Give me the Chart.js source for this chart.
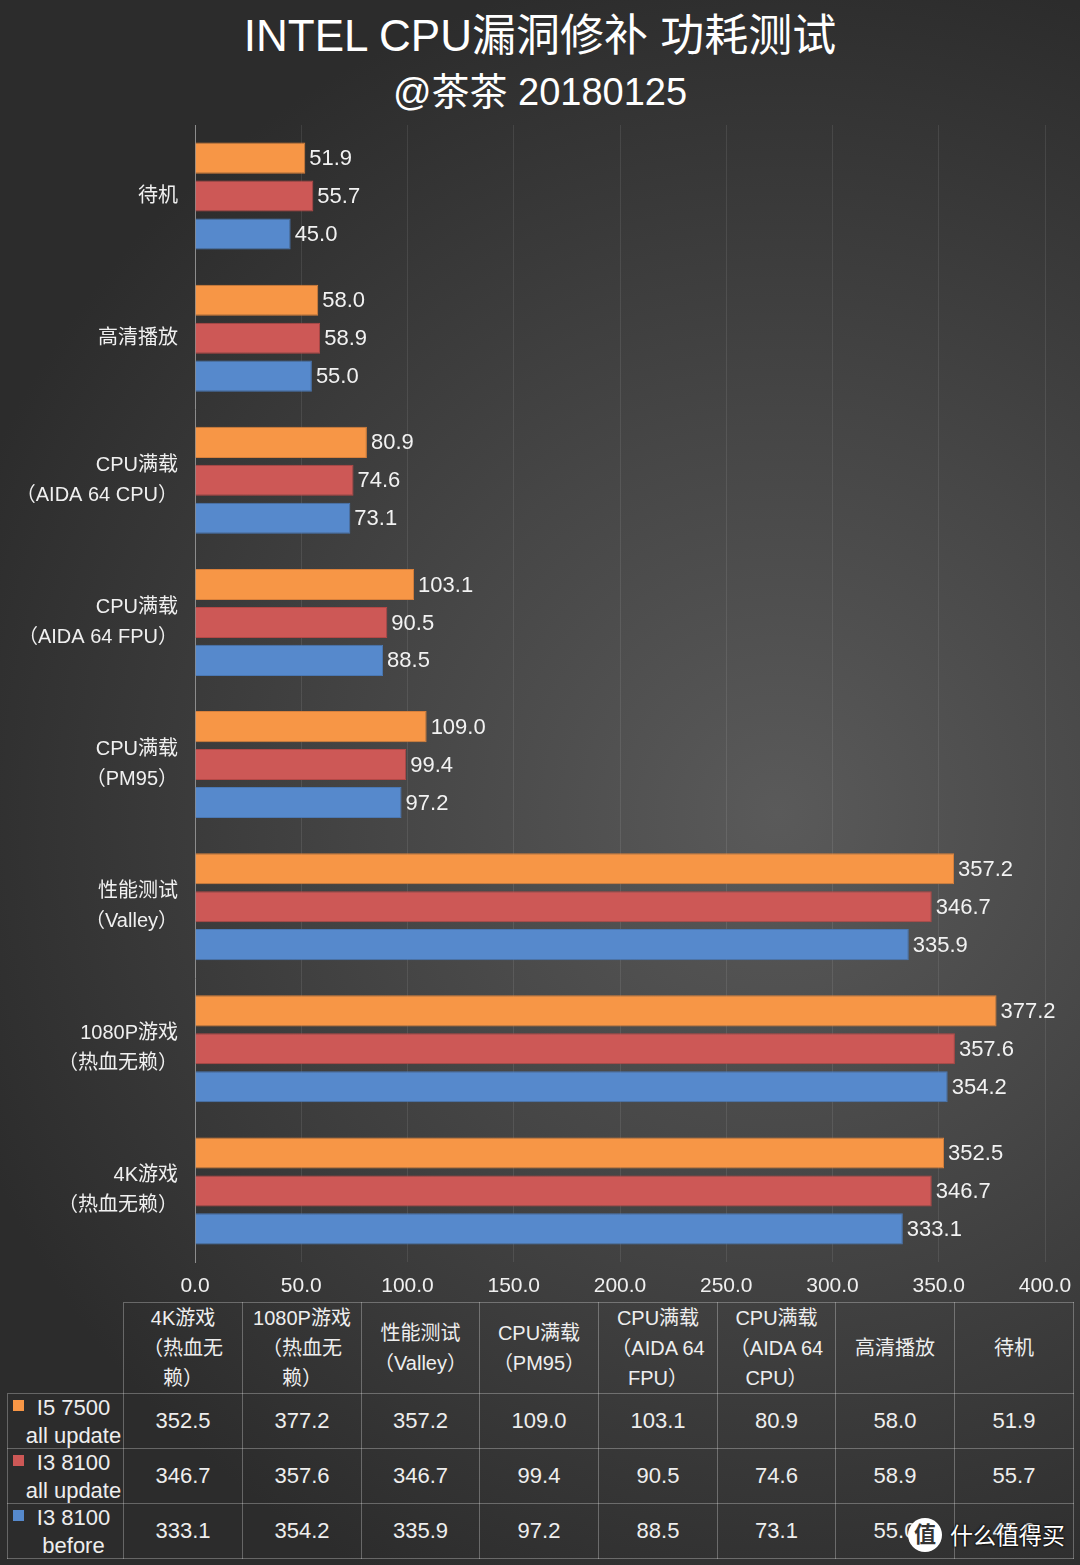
<!DOCTYPE html>
<html>
<head>
<meta charset="utf-8">
<script src="https://cdn.jsdelivr.net/npm/chart.js@4.4.1/dist/chart.umd.min.js"></script>
<style>
  body { margin: 0; }
  #page {
    position: relative; width: 1080px; height: 1565px; overflow: hidden;
    background: radial-gradient(ellipse 80% 55% at 72% 52%, #5a5a5a 0%, #464646 45%, #2c2c2c 100%);
    font-family: "Liberation Sans", "Noto Sans CJK SC", sans-serif; color: #fff;
  }
  .title { position: absolute; left: 0; width: 1080px; text-align: center; white-space: nowrap; }
  #t1 { top: 8px; font-size: 44px; line-height: 56px; }
  #t2 { top: 66px; font-size: 38px; line-height: 52px; }
  #chart { position: absolute; left: 0; top: 0; }
  #tbl { position: absolute; left: 7px; top: 1302px; border-collapse: collapse; table-layout: fixed; }
  #tbl td { border: 1px solid rgba(255,255,255,0.28); text-align: center; color: #eee; padding: 0; }
  #tbl tr.head td { height: 89px; font-size: 20px; line-height: 30px; }
  #tbl tr.row td { height: 54px; font-size: 22px; }
  #tbl td.corner { border-top: none; border-left: none; }
  .lab { position: relative; height: 54px; }
  .key { position: absolute; left: 5px; top: 6px; width: 11px; height: 11px; }
  .labtxt { position: absolute; left: 16px; right: 0; top: 0; font-size: 22px; line-height: 28px; text-align: center; }
  #wm { position: absolute; left: 908px; top: 1518px; height: 36px; }
  #wm .c { position: absolute; left: 0; top: 0; width: 34px; height: 34px; border-radius: 50%; background: #fff;
           color: #333; font-size: 22px; line-height: 34px; text-align: center; font-weight: bold; }
  #wm .t { position: absolute; left: 42px; top: 0; font-size: 23px; line-height: 36px; white-space: nowrap;
           text-shadow: 0 0 3px #000, 0 0 2px #000; }
</style>
</head>
<body>
<div id="page">
  <div id="t1" class="title">INTEL CPU漏洞修补 功耗测试</div>
  <div id="t2" class="title">@茶茶 20180125</div>
  <canvas id="chart" width="1080" height="1300"></canvas>
  <table id="tbl"></table>
  <div id="wm"><div class="c">值</div><div class="t">什么值得买</div></div>
</div>
<script>
// categories, top to bottom as drawn in the chart
const categories = [
  ['待机'],
  ['高清播放'],
  ['CPU满载', '（AIDA 64 CPU）'],
  ['CPU满载', '（AIDA 64 FPU）'],
  ['CPU满载', '（PM95）'],
  ['性能测试', '（Valley）'],
  ['1080P游戏', '（热血无赖）'],
  ['4K游戏', '（热血无赖）']
];

// column headers of the data table (order reversed, wrapped like the original)
const tableHeaders = [
  ['4K游戏', '（热血无', '赖）'],
  ['1080P游戏', '（热血无', '赖）'],
  ['性能测试', '（Valley）'],
  ['CPU满载', '（PM95）'],
  ['CPU满载', '（AIDA 64', 'FPU）'],
  ['CPU满载', '（AIDA 64', 'CPU）'],
  ['高清播放'],
  ['待机']
];

const seriesNames = [['I5 7500', 'all update'], ['I3 8100', 'all update'], ['I3 8100', 'before']];
const i5Update = [51.9, 58.0, 80.9, 103.1, 109.0, 357.2, 377.2, 352.5];
const i3Update = [55.7, 58.9, 74.6, 90.5, 99.4, 346.7, 357.6, 346.7];
const i3Before = [45.0, 55.0, 73.1, 88.5, 97.2, 335.9, 354.2, 333.1];
const colors = ['#f79646', '#cd5856', '#5689cc'];
const borders = ['#d9803b', '#b44846', '#4a78b4'];

const xTicks = [0, 50, 100, 150, 200, 250, 300, 350, 400];
const FONT = '"Liberation Sans", "Noto Sans CJK SC"';

// value labels to the right of every bar
const barLabels = {
  id: 'barLabels',
  afterDatasetsDraw(chart) {
    const ctx = chart.ctx;
    ctx.save();
    ctx.font = '22px ' + FONT;
    ctx.fillStyle = '#f2f2f2';
    ctx.textBaseline = 'middle';
    chart.data.datasets.forEach((ds, i) => {
      chart.getDatasetMeta(i).data.forEach((bar, j) => {
        ctx.fillText(ds.data[j].toFixed(1), bar.x + 4, bar.y + 1);
      });
    });
    ctx.restore();
  }
};

new Chart(document.getElementById('chart'), {
  type: 'bar',
  data: {
    labels: categories,
    datasets: [
      { label: seriesNames[0].join(' '), data: i5Update, backgroundColor: colors[0], borderColor: borders[0], borderWidth: 1 },
      { label: seriesNames[1].join(' '), data: i3Update, backgroundColor: colors[1], borderColor: borders[1], borderWidth: 1 },
      { label: seriesNames[2].join(' '), data: i3Before, backgroundColor: colors[2], borderColor: borders[2], borderWidth: 1 }
    ]
  },
  options: {
    indexAxis: 'y',
    responsive: false,
    animation: false,
    categoryPercentage: 0.8,
    barPercentage: 0.82,
    layout: { padding: { top: 125, right: 35, left: 0, bottom: 0 } },
    plugins: { legend: { display: false }, tooltip: { enabled: false } },
    scales: {
      x: {
        min: 0, max: 400,
        afterBuildTicks: s => { s.ticks = xTicks.map(v => ({ value: v })); },
        afterFit: s => { s.height = 38; s.paddingLeft = 0; s.paddingRight = 0; },
        grid: { color: 'rgba(255,255,255,0.09)', drawTicks: false },
        border: { display: false },
        ticks: {
          padding: 12, color: '#f0f0f0',
          font: { size: 21, family: FONT },
          callback: v => v.toFixed(1)
        }
      },
      y: {
        afterFit: s => { s.width = 195; },
        grid: { display: false },
        border: { display: true, color: '#8c8c8c', width: 1 },
        ticks: {
          padding: 9, color: '#f0f0f0',
          font: { size: 20, lineHeight: 1.5, family: FONT }
        }
      }
    }
  },
  plugins: [barLabels]
});

// data table below the chart
const tableSeries = [i5Update, i3Update, i3Before].map(s => s.slice().reverse());
const colW = [116, 119, 119, 118, 119, 119, 118, 119, 119];
const tbl = document.getElementById('tbl');
let html = '<colgroup>' + colW.map(w => '<col style="width:' + w + 'px">').join('') + '</colgroup>';
html += '<tr class="head"><td class="corner"></td>' +
  tableHeaders.map(h => '<td>' + h.join('<br>') + '</td>').join('') + '</tr>';
tableSeries.forEach((vals, i) => {
  html += '<tr class="row"><td><div class="lab"><div class="key" style="background:' + colors[i] + '"></div>' +
    '<div class="labtxt">' + seriesNames[i].join('<br>') + '</div></div></td>' +
    vals.map(v => '<td>' + v.toFixed(1) + '</td>').join('') + '</tr>';
});
tbl.innerHTML = html;
</script>
</body>
</html>
